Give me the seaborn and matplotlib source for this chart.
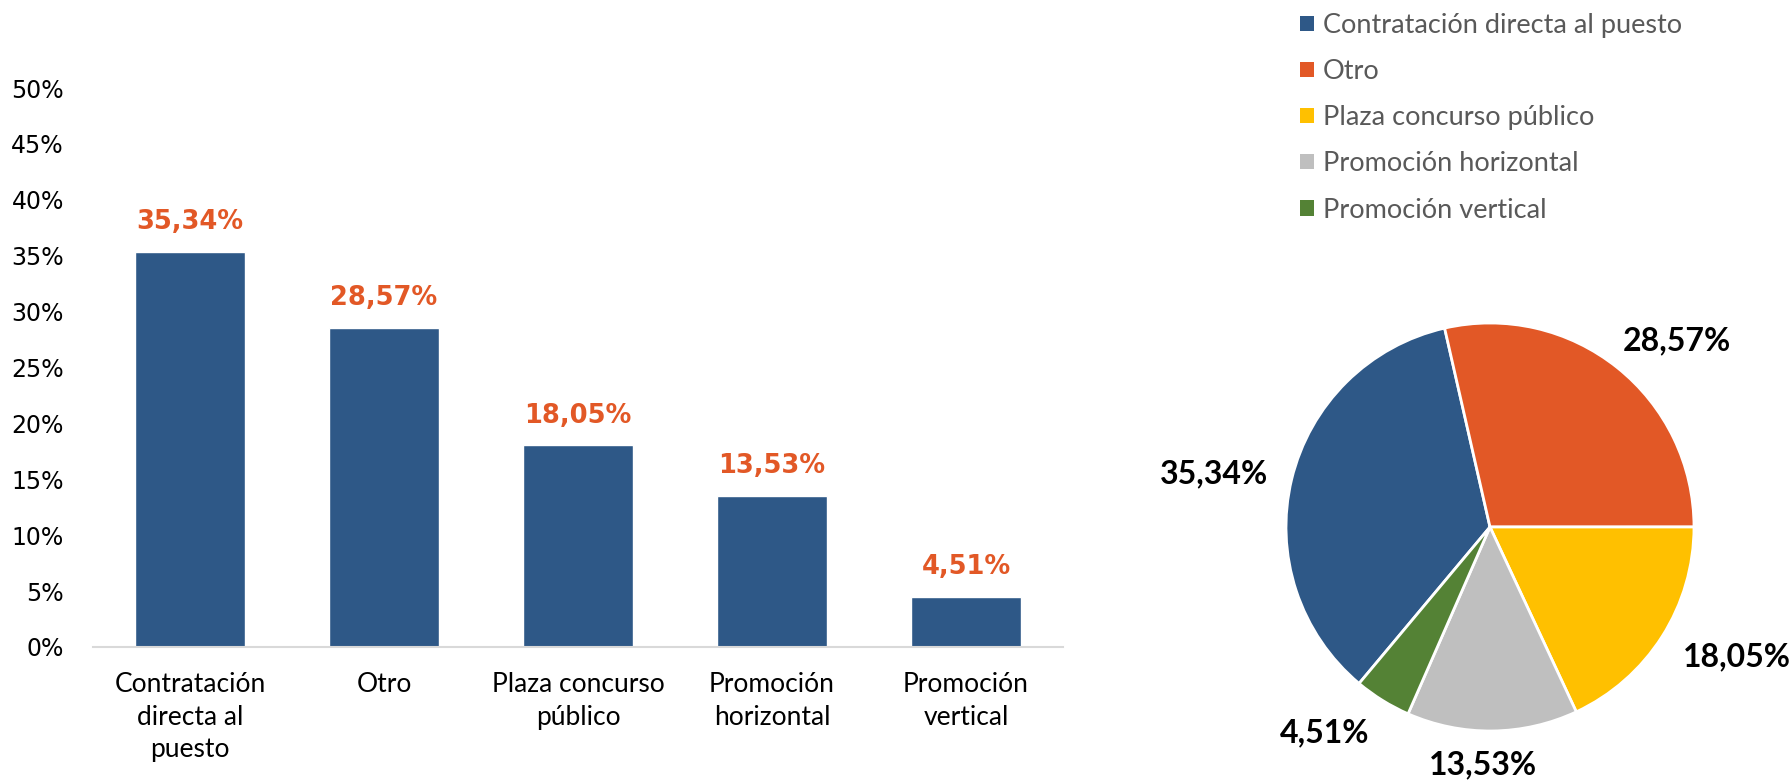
import matplotlib
matplotlib.use("Agg")
import matplotlib.pyplot as plt
import seaborn as sns
import pandas as pd
from matplotlib.patches import Patch
from matplotlib.ticker import PercentFormatter, MultipleLocator

# ---- data ----
categories = ["Contratación directa al puesto", "Otro", "Plaza concurso público",
              "Promoción horizontal", "Promoción vertical"]
tick_labels = ["Contratación\ndirecta al\npuesto", "Otro", "Plaza concurso\npúblico",
               "Promoción\nhorizontal", "Promoción\nvertical"]
values = [35.34, 28.57, 18.05, 13.53, 4.51]
value_labels = ["35,34%", "28,57%", "18,05%", "13,53%", "4,51%"]
pie_colors = ["#2E5887", "#E25826", "#FFC000", "#BFBFBF", "#548235"]
bar_color = "#2E5887"
label_orange = "#E25826"

sns.set_theme(style="white")
plt.rcParams["font.family"] = ["DejaVu Sans"]

W, H = 1790, 782
fig = plt.figure(figsize=(W / 100, H / 100), dpi=100)

# ---- bar chart ----
axb = fig.add_axes([93 / W, 1 - 647 / H, 970 / W, (647 - 88) / H])
df = pd.DataFrame({"cat": tick_labels, "val": values})
sns.barplot(data=df, x="cat", y="val", color=bar_color, saturation=1, width=0.57, ax=axb)
axb.set_xlim(-0.5, 4.5)
axb.set_ylim(0, 50)
axb.yaxis.set_major_locator(MultipleLocator(5))
axb.yaxis.set_major_formatter(PercentFormatter(decimals=0))
axb.set_xlabel("")
axb.set_ylabel("")
for s in ["top", "right", "left"]:
    axb.spines[s].set_visible(False)
axb.spines["bottom"].set_color("#D9D9D9")
axb.spines["bottom"].set_linewidth(1.5)
axb.tick_params(axis="y", length=0, pad=21, labelsize=17, labelcolor="#000000")
axb.tick_params(axis="x", length=0, pad=18)
for t in axb.get_xticklabels():
    t.set_fontfamily(["Lato", "DejaVu Sans"])
    t.set_fontsize(19)
    t.set_linespacing(1.38)
    t.set_color("#000000")
axb.bar_label(axb.containers[0], labels=value_labels, padding=12, color=label_orange,
              fontsize=18.5, fontweight="bold", family=["DejaVu Sans"])

# ---- pie chart ----
R = 204
axp = fig.add_axes([(1490 - R) / W, (H - 527 - R) / H, 2 * R / W, 2 * R / H])
wedges, texts = axp.pie(values, colors=pie_colors, startangle=230.08, counterclock=False,
                        labels=value_labels, labeldistance=1.12,
                        wedgeprops=dict(edgecolor="white", linewidth=2),
                        textprops=dict(fontsize=23, fontweight="bold", color="black",
                                       family=["Lato", "DejaVu Sans"]))
for t in texts:
    x, y = t.get_position()
    if abs(x) < 0.3:
        t.set_horizontalalignment("center")
        t.set_position((x - 0.05, y * 1.04))
    elif y > 0.5:
        t.set_position((x - 0.05, y * 1.04))
    elif y < -0.5:
        t.set_position((x, y * 1.06))
axp.set_xlim(-1, 1)
axp.set_ylim(-1, 1)
axp.set_aspect("equal")

# ---- legend ----
handles = [Patch(facecolor=c, edgecolor="none") for c in pie_colors]
fig.legend(handles=handles, labels=categories, loc="upper left",
           bbox_to_anchor=(1300 / W, 1 - 13 / H), frameon=False,
           prop=dict(family=["Lato", "DejaVu Sans"], size=19.5),
           labelcolor="#595959", handlelength=0.5, handleheight=0.5,
           handletextpad=0.35, labelspacing=0.78, borderpad=0, borderaxespad=0)

fig.savefig("out.png", dpi=100)
